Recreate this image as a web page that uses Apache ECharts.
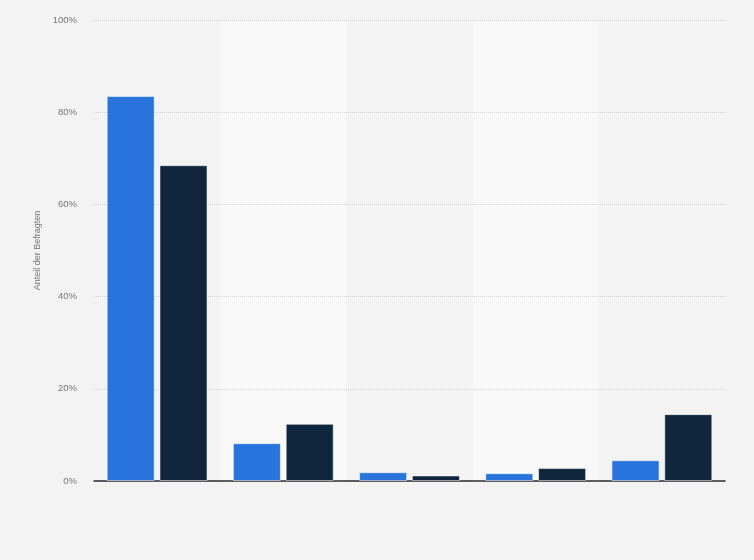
<!DOCTYPE html>
<html>
<head>
<meta charset="utf-8">
<script src="https://cdn.jsdelivr.net/npm/echarts@6/dist/echarts.min.js"></script>
<style>
  html, body { margin: 0; padding: 0; background: #f3f3f3; }
  #chart { width: 754px; height: 560px; }
</style>
</head>
<body>
<div id="chart"></div>
<script>
// Daten
var categories = ["A", "B", "C", "D", "E"];
var seriesA = [83.5, 8.2, 1.9, 1.7, 4.5];
var seriesB = [68.5, 12.4, 1.2, 2.8, 14.5];
var yTicks = [0, 20, 40, 60, 80, 100];

// keine Gitterlinie bei 0 (dort liegt die Achse)
var gridColors = yTicks.map(function(v) {
  return v === 0 ? "rgba(0,0,0,0)" : "#d4d4d4";
});

var chart = echarts.init(document.getElementById("chart"));

var option = {
  backgroundColor: "#f3f3f3",
  animation: false,
  grid: {
    left: 94,
    right: 29,
    top: 20,
    bottom: 79
  },
  xAxis: {
    type: "category",
    data: categories,
    z: 0,
    axisLabel: { show: false },
    axisTick: { show: false },
    axisLine: {
      show: true,
      lineStyle: { color: "#2b2b2b", width: 1.5 }
    },
    splitArea: {
      show: true,
      areaStyle: { color: ["rgba(0,0,0,0)", "#f8f8f8"] }
    }
  },
  yAxis: {
    type: "value",
    z: 1,
    min: yTicks[0],
    max: yTicks[yTicks.length - 1],
    interval: 20,
    name: "Anteil der Befragten",
    nameLocation: "middle",
    nameGap: 50,
    nameTextStyle: { color: "#777", fontSize: 9, fontFamily: "Liberation Sans" },
    axisLine: { show: false },
    axisTick: { show: false },
    axisLabel: {
      color: "#777",
      fontSize: 9.5,
      fontFamily: "Liberation Sans",
      margin: 17,
      formatter: "{value}%"
    },
    splitLine: {
      show: true,
      lineStyle: { color: gridColors, type: "dotted", width: 1 }
    }
  },
  series: [
    {
      name: "Serie 1",
      type: "bar",
      data: seriesA,
      barWidth: 48,
      barGap: "10%",
      itemStyle: {
        color: "#2874dc",
        borderColor: "rgba(255,255,255,0.5)",
        borderWidth: 1
      }
    },
    {
      name: "Serie 2",
      type: "bar",
      data: seriesB,
      barWidth: 48,
      barGap: "10%",
      itemStyle: {
        color: "#0f263d",
        borderColor: "rgba(255,255,255,0.5)",
        borderWidth: 1
      }
    }
  ]
};

chart.setOption(option);
</script>
</body>
</html>
